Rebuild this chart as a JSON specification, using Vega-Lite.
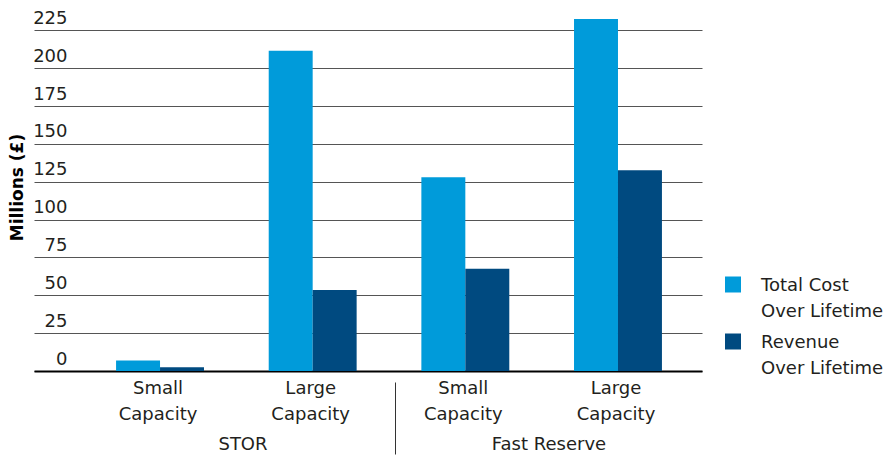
{
  "$schema": "https://vega.github.io/schema/vega-lite/v6.json",
  "width": 668,
  "height": 371,
  "autosize": {"type": "none"},
  "padding": {"left": 34, "top": 0, "right": 187, "bottom": 87},
  "background": "white",
  "config": {
    "view": {"stroke": null},
    "font": "DejaVu Sans",
    "style": {"guide-label": {"lineHeight": 26}}
  },
  "data": {
    "values": [
      {"scheme": "STOR", "key": "STOR / Small Capacity", "series": "Total Cost Over Lifetime", "value": 7},
      {"scheme": "STOR", "key": "STOR / Small Capacity", "series": "Revenue Over Lifetime", "value": 2.5},
      {"scheme": "STOR", "key": "STOR / Large Capacity", "series": "Total Cost Over Lifetime", "value": 211.5},
      {"scheme": "STOR", "key": "STOR / Large Capacity", "series": "Revenue Over Lifetime", "value": 53.5},
      {"scheme": "Fast Reserve", "key": "Fast Reserve / Small Capacity", "series": "Total Cost Over Lifetime", "value": 128},
      {"scheme": "Fast Reserve", "key": "Fast Reserve / Small Capacity", "series": "Revenue Over Lifetime", "value": 67.5},
      {"scheme": "Fast Reserve", "key": "Fast Reserve / Large Capacity", "series": "Total Cost Over Lifetime", "value": 232.5},
      {"scheme": "Fast Reserve", "key": "Fast Reserve / Large Capacity", "series": "Revenue Over Lifetime", "value": 132.5}
    ]
  },
  "layer": [
    {
      "mark": {"type": "bar"},
      "encoding": {
        "x": {
          "field": "key",
          "type": "nominal",
          "sort": ["STOR / Small Capacity", "STOR / Large Capacity", "Fast Reserve / Small Capacity", "Fast Reserve / Large Capacity"],
          "scale": {"type": "band", "paddingInner": 0.424, "paddingOuter": 0.4, "align": 0.672},
          "title": null,
          "axis": {
            "orient": "bottom",
            "domain": true,
            "domainColor": "#000000",
            "domainWidth": 2,
            "ticks": false,
            "grid": false,
            "labelAngle": 0,
            "labelPadding": 8,
            "labelFontSize": 18,
            "labelColor": "#231f20",
            "labelLineHeight": 26,
            "labelOffset": -2,
            "labelExpr": "split(split(datum.label, ' / ')[1], ' ')"
          }
        },
        "xOffset": {
          "field": "series",
          "sort": ["Total Cost Over Lifetime", "Revenue Over Lifetime"],
          "scale": {"paddingInner": 0, "paddingOuter": 0}
        },
        "y": {
          "field": "value",
          "type": "quantitative",
          "scale": {"domain": [0, 245], "nice": false},
          "title": "Millions (£)",
          "axis": {
            "values": [0, 25, 50, 75, 100, 125, 150, 175, 200, 225],
            "domain": false,
            "ticks": false,
            "tickSize": 0,
            "grid": true,
            "gridColor": "#555555",
            "gridWidth": 1,
            "labelAlign": "right",
            "labelBaseline": "alphabetic",
            "labelPadding": -33,
            "labelOffset": -7,
            "labelFlush": false,
            "labelOverlap": false,
            "labelFontSize": 18,
            "labelColor": "#231f20",
            "titleFontSize": 17,
            "titleFontWeight": "bold",
            "titleColor": "#000000",
            "titleAngle": -90,
            "titleAlign": "center",
            "titleBaseline": "middle",
            "titleX": -17,
            "titleY": 187
          }
        },
        "color": {
          "field": "series",
          "type": "nominal",
          "scale": {"domain": ["Total Cost Over Lifetime", "Revenue Over Lifetime"], "range": ["#009bda", "#004a80"]},
          "legend": {
            "orient": "none",
            "legendX": 690,
            "legendY": 282,
            "title": null,
            "padding": 0,
            "symbolType": "M-1,-1.8125h2v2h-2z",
            "symbolSize": 256,
            "symbolStrokeWidth": 0,
            "labelFontSize": 18,
            "labelColor": "#231f20",
            "labelOffset": 19,
            "labelBaseline": "alphabetic",
            "labelLimit": 300,
            "rowPadding": 12,
            "labelExpr": "[replace(datum.label, ' Over Lifetime', ''), 'Over Lifetime']"
          }
        }
      }
    },
    {
      "mark": {"type": "tick", "opacity": 0},
      "encoding": {
        "x": {
          "field": "scheme",
          "type": "nominal",
          "sort": ["STOR", "Fast Reserve"],
          "scale": {"type": "band", "paddingInner": 0, "paddingOuter": 0.0915, "align": 1},
          "title": null,
          "axis": {
            "orient": "bottom",
            "offset": 11,
            "domain": false,
            "grid": false,
            "ticks": true,
            "tickSize": 72,
            "tickWidth": 1,
            "bandPosition": 0,
            "tickColor": {"condition": {"test": "datum.value === 'Fast Reserve'", "value": "#333333"}, "value": "rgba(0,0,0,0)"},
            "labelAngle": 0,
            "labelPadding": -19,
            "labelFontSize": 18,
            "labelColor": "#231f20"
          }
        }
      }
    }
  ],
  "resolve": {"scale": {"x": "independent"}}
}
